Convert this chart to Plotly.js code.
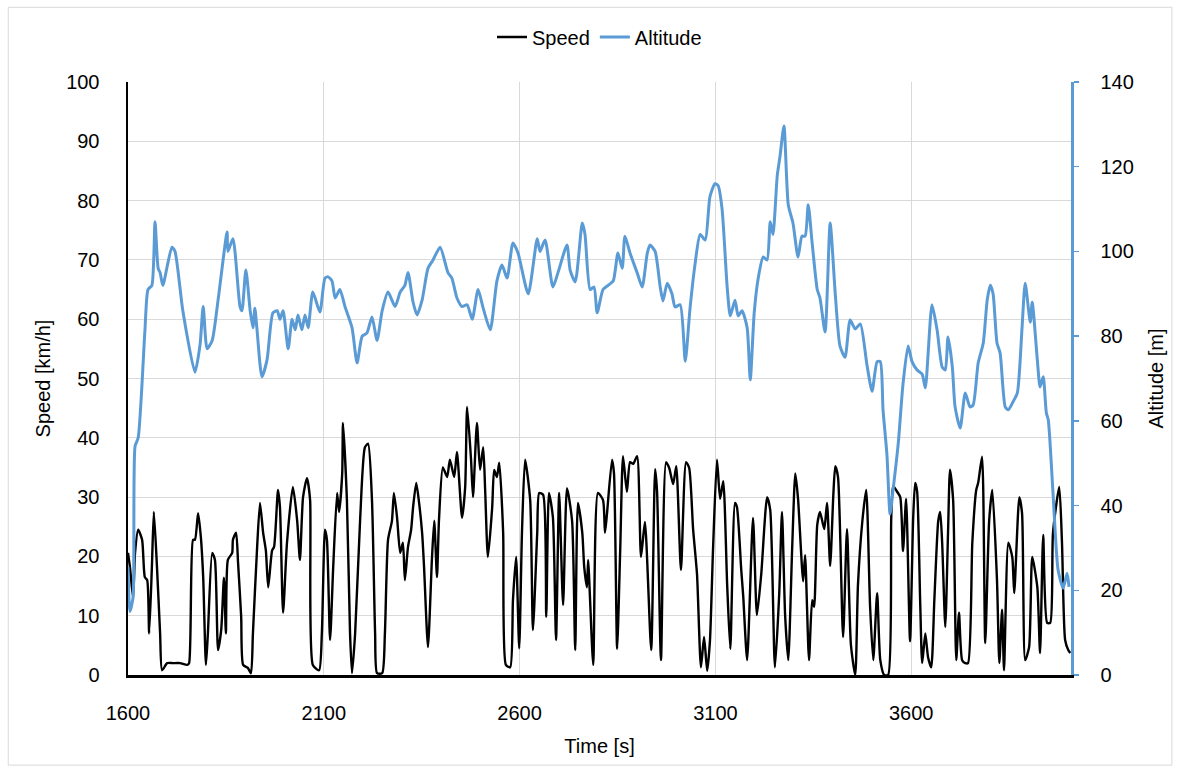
<!DOCTYPE html>
<html>
<head>
<meta charset="utf-8">
<script src="https://cdn.plot.ly/plotly-3.0.1.min.js"></script>
<style>html,body{margin:0;padding:0;background:#fff}#chart{width:1180px;height:774px}</style>
</head>
<body>
<div id="chart"></div>
<script>
// Speed series (time [s], speed [km/h])
var speedTime = [1600,1605,1613,1618,1626,1636,1643,1649,1654,1661,1666,1674,1682,1687,1700,1715,1733,1751,1756,1766,1771,1779,1786,1792,1799,1804,1815,1822,1830,1838,1845,1850,1855,1866,1868,1876,1881,1889,1894,1906,1914,1919,1929,1937,1945,1952,1958,1968,1973,1983,1988,1996,2006,2021,2032,2039,2047,2057,2065,2072,2088,2095,2103,2108,2116,2124,2134,2139,2147,2149,2159,2167,2172,2180,2193,2205,2213,2223,2231,2236,2249,2256,2264,2274,2279,2287,2295,2302,2307,2315,2323,2328,2336,2343,2351,2356,2366,2376,2382,2389,2394,2404,2415,2422,2433,2440,2453,2461,2466,2476,2481,2491,2499,2507,2512,2519,2530,2535,2542,2548,2558,2565,2576,2583,2591,2599,2606,2614,2627,2634,2645,2650,2660,2668,2675,2685,2693,2701,2711,2721,2734,2742,2749,2760,2765,2772,2775,2788,2800,2813,2818,2823,2836,2841,2849,2857,2864,2874,2882,2890,2900,2910,2920,2936,2946,2951,2961,2974,2982,2992,3000,3012,3025,3033,3043,3053,3063,3071,3079,3086,3094,3104,3112,3120,3130,3138,3150,3155,3166,3171,3181,3196,3206,3217,3232,3240,3252,3263,3270,3278,3286,3296,3304,3311,3324,3329,3339,3347,3352,3360,3367,3378,3385,3393,3401,3406,3413,3426,3436,3446,3457,3464,3475,3485,3495,3503,3513,3521,3531,3541,3549,3554,3564,3572,3579,3587,3597,3605,3610,3615,3623,3628,3636,3643,3651,3659,3669,3674,3679,3687,3694,3699,3707,3715,3722,3730,3738,3745,3756,3766,3771,3781,3789,3799,3807,3819,3825,3832,3837,3848,3858,3863,3876,3883,3891,3901,3909,3922,3929,3937,3947,3955,3962,3978,3985,3993,4001,4006];
var speedValues = [20.6,18.2,13,20.6,24.5,22.8,16.5,16,7,18.2,27.5,18.2,7,0.8,2,2,2,1.7,2,22.8,22.8,27.3,23.3,16.5,1.7,7,20.6,19.4,4.2,7.6,16.4,7,19.4,20.6,22.8,24,19,9.8,1.7,1.2,0.3,7,20.6,29,24,21,14.8,21,21.6,31.2,28.3,10.5,22.3,31.7,26,19.4,30,33.2,29.5,1.7,0.8,7,24.5,22.8,5.9,18.2,30.7,27.5,34,42.5,29.5,7,0.3,7,26.6,38.4,39,29.5,7,0.3,0.3,7,22.8,26,30.7,26.6,20.6,22.3,16,21.6,24.5,28.3,32.4,29.2,24,18.2,4.7,19.4,26,16.5,26,35,33.4,36.3,33.4,37.6,26.5,31.7,45.2,36.3,30,42.5,34.6,38.4,31.2,19.9,28.3,34.6,33.4,35.8,24,1.7,1.3,12.6,19.9,4.5,24,36.3,29.5,7.6,24,30.7,30.4,9.8,30.7,26.6,5.9,30.7,11.8,31.5,26,4.2,29,24,18.2,14.8,19.4,1.7,30.7,29.5,24,27.1,36.3,34,4.4,21.4,36.9,30.9,35.9,35.6,36.9,19.9,25.8,4.2,34.7,30.9,2.5,35.9,34.9,32.2,35.2,17.7,35.9,34.9,24.6,17,1.3,6.4,0.7,5.7,21.4,36.3,29.7,32.7,15.2,4.4,29,28.3,17.7,13.3,2.5,26.5,10.1,17,30,27.8,1.3,13.8,27.5,10.1,2.5,21.4,34,29.7,15.8,20.2,2.5,12.6,11.5,25.3,27.5,24.6,29,18.4,30.2,35.2,33.4,6.4,24.6,5.1,0,15.2,25.8,31.2,11.5,2.5,13.8,2.5,0,0,26.5,31.9,30.9,30,20.9,29.7,5.7,26.5,32.4,31,12,2,7,3,1.3,12.6,26,27.5,22.3,8.1,24,34.6,29.5,2.5,10.5,2.5,2,2,22.3,31.2,32.4,36.8,5.4,26,31.2,16,2,11,0.8,22.3,19.9,13.8,30,27.3,2.5,4.7,19.9,14.8,3.7,23.6,8.8,8.8,24,31.7,22.3,5.9,4.2,3.7];

// Altitude series (time [s], altitude [m])
var altTime = [1600,1605,1613,1618,1626,1643,1651,1661,1669,1677,1682,1689,1712,1720,1740,1771,1784,1792,1802,1815,1830,1853,1855,1868,1886,1891,1901,1912,1919,1924,1929,1942,1955,1970,1981,1988,1996,2009,2019,2027,2034,2044,2052,2060,2072,2090,2103,2111,2121,2129,2141,2154,2172,2185,2198,2210,2223,2236,2249,2264,2282,2295,2307,2315,2328,2338,2351,2366,2379,2397,2417,2427,2440,2453,2466,2479,2494,2507,2525,2542,2555,2568,2583,2596,2622,2645,2652,2665,2685,2698,2721,2729,2742,2760,2767,2780,2790,2798,2813,2826,2839,2851,2862,2869,2882,2900,2913,2926,2933,2946,2959,2966,2977,2989,2997,3010,3023,3035,3048,3061,3074,3086,3099,3107,3117,3130,3138,3150,3158,3168,3181,3189,3199,3209,3222,3232,3240,3247,3258,3265,3275,3286,3298,3311,3321,3329,3337,3347,3360,3367,3380,3393,3406,3418,3431,3444,3457,3470,3487,3500,3513,3521,3528,3538,3546,3554,3567,3579,3592,3602,3615,3628,3636,3653,3666,3679,3687,3694,3705,3712,3725,3738,3750,3758,3771,3784,3794,3802,3809,3819,3827,3840,3848,3860,3871,3883,3891,3904,3909,3922,3929,3937,3945,3950,3962,3975,3988,3998,4003];
var altValues = [25.5,15,18.4,54,56,81,91,92,107,96,95,92,101,100,86,71.5,78,87,77,79,88.5,104.6,100,103,87,86,95.6,86,82,86.6,82,70.4,74.4,85.5,86,84,86,77,84,81.5,85,81.5,85,82,90.4,85.7,93.7,94,93,89,91,87,82,73.7,80,80.7,84.5,79,86,90.4,87,90.4,92,95,88,85,88.5,96,98,101,95,93.7,89,87,87.4,84,91,86.6,81.5,93,96.8,93.7,102,99.6,90,103,100,102.7,91.6,95,101.5,95.6,92.8,106.7,104,91,91.6,85.5,91,92,93,99.6,96,103.6,99.6,95,91.6,99.6,101.5,100,91.6,88.3,92.5,90,86.9,87.4,74.1,86.4,97,104,102.7,112.9,116,115.5,110,91.6,84.8,88.5,84.8,86,82,69.7,85.5,93.5,98.7,98,107,104,118,122.5,129.6,111,106.7,98.7,103.6,103.6,111,102,91,89,81,106.7,90,77.7,75,83.8,81.7,82.9,73.2,67,74,74,62.6,52,38,44,54.8,68.7,77.7,74,72,71,67.8,87.4,81.5,72.7,72,79.8,72.7,63.3,58.3,66.6,63.3,63.7,73.7,78.4,88.5,92,90,78.4,76,63.3,62.6,64.5,66.6,82,92.5,83.3,88,74.4,68,70.4,61.9,60.2,43,24.8,20.5,24,20.8];

var xTicks = [1600,2100,2600,3100,3600];
var speedTicks = [0,10,20,30,40,50,60,70,80,90,100];
var altTicks = [0,20,40,60,80,100,120,140];

var FONT = 'Liberation Sans, Arial, sans-serif';
var FS = 20;
var traces = [
  {x: speedTime, y: speedValues, name: 'Speed', type: 'scatter', mode: 'lines',
   line: {color: '#000000', width: 2.4, shape: 'spline', smoothing: 0.6}, yaxis: 'y'},
  {x: altTime, y: altValues, name: 'Altitude', type: 'scatter', mode: 'lines',
   line: {color: '#5B9BD5', width: 3, shape: 'spline', smoothing: 0.6}, yaxis: 'y2'}
];
var layout = {
  width: 1180, height: 774,
  margin: {l: 128, r: 109, t: 82, b: 99},
  paper_bgcolor: '#ffffff', plot_bgcolor: '#ffffff',
  font: {family: FONT, size: FS, color: '#000000'},
  showlegend: true,
  legend: {orientation: 'h', x: 0.5, xanchor: 'center', y: 1.076, yanchor: 'middle',
           font: {family: FONT, size: FS}, traceorder: 'normal', itemwidth: 30},
  xaxis: {range: [1600, 4008], tickvals: xTicks, ticktext: xTicks.map(String),
          showgrid: true, gridcolor: '#d9d9d9', gridwidth: 1, zeroline: false,
          showline: true, linecolor: '#000000', linewidth: 3, ticks: '',
          tickfont: {size: FS}, ticklabelstandoff: 18,
          title: {text: 'Time [s]', font: {size: FS}, standoff: 16}},
  yaxis: {range: [0, 100], tickvals: speedTicks, showgrid: true, gridcolor: '#d9d9d9',
          zeroline: false, showline: true, linecolor: '#000000', linewidth: 2.5, ticks: '',
          tickfont: {size: FS}, ticklabelstandoff: 22,
          title: {text: 'Speed [km/h]', font: {size: FS}, standoff: 10}},
  yaxis2: {range: [0, 140], tickvals: altTicks, overlaying: 'y', side: 'right',
           showgrid: false, zeroline: false, showline: true, linecolor: '#5B9BD5', linewidth: 2.5,
           ticks: 'outside', ticklen: 5, tickcolor: '#5B9BD5', tickwidth: 1.5,
           tickfont: {size: FS}, ticklabelstandoff: 18,
           title: {text: 'Altitude [m]', font: {size: FS}, standoff: 16}},
  shapes: [{type: 'rect', xref: 'paper', yref: 'paper', x0: -0.127, x1: 1.107, y0: -0.152, y1: 1.126,
            line: {color: '#d9d9d9', width: 1}, fillcolor: 'rgba(0,0,0,0)', layer: 'below'}]
};
Plotly.newPlot('chart', traces, layout, {displayModeBar: false, staticPlot: true});
</script>
</body>
</html>
